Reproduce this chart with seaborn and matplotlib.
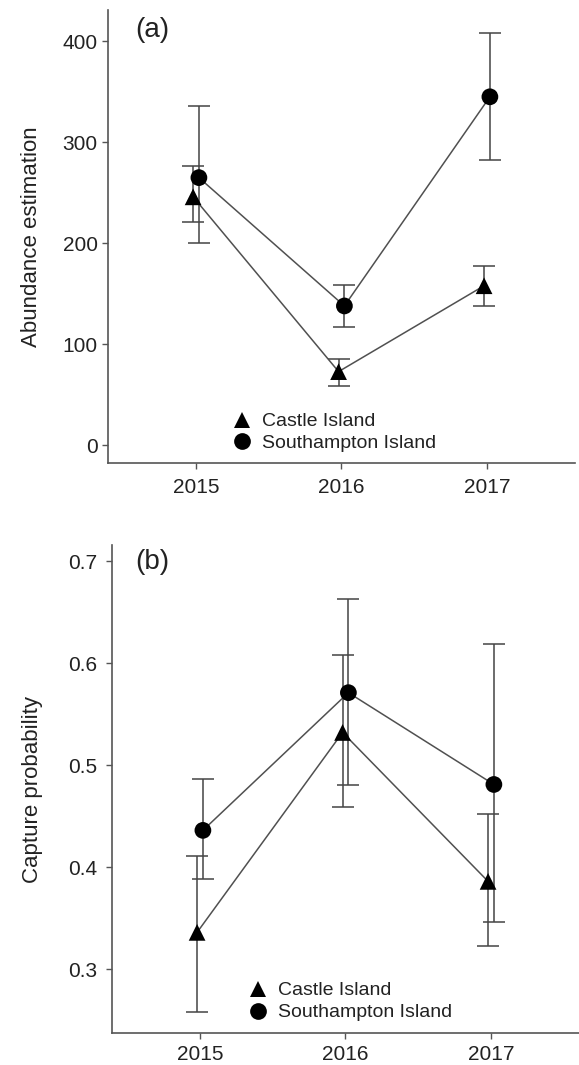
import pandas as pd
import matplotlib
matplotlib.use("Agg")
import matplotlib.pyplot as plt
import seaborn as sns

# Datos
years = [2015, 2016, 2017]
islands = ["Castle Island", "Southampton Island"]

abund_castle = [246, 73, 158]
abund_castle_lo = [221, 59, 138]
abund_castle_hi = [277, 85, 178]
abund_south = [265, 138, 345]
abund_south_lo = [200, 117, 282]
abund_south_hi = [336, 159, 408]

cap_castle = [0.336, 0.532, 0.386]
cap_castle_lo = [0.258, 0.459, 0.323]
cap_castle_hi = [0.411, 0.608, 0.452]
cap_south = [0.436, 0.571, 0.481]
cap_south_lo = [0.388, 0.480, 0.346]
cap_south_hi = [0.486, 0.663, 0.619]

sns.set_theme(style="ticks")
plt.rcParams["font.family"] = ["Liberation Sans", "DejaVu Sans"]

DODGE = {"Castle Island": -0.02, "Southampton Island": 0.02}
MARKERS = {"Castle Island": "^", "Southampton Island": "o"}
AX_COL = "#555555"
TXT_COL = "#222222"


def make_df(castle, c_lo, c_hi, south, s_lo, s_hi):
    rows = []
    for isl, est, lo, hi in [(islands[0], castle, c_lo, c_hi),
                             (islands[1], south, s_lo, s_hi)]:
        for y, e, l, h in zip(years, est, lo, hi):
            rows.append({"year": y + DODGE[isl], "island": isl,
                         "est": e, "lo": l, "hi": h})
    return pd.DataFrame(rows)


def draw_panel(ax, df, tag, ylabel, ylim, yticks, yfmt, leg_anchor,
               tag_pos, ypad, ylabelpad, xpad):
    for isl in islands:
        d = df[df["island"] == isl]
        ax.errorbar(d["year"], d["est"],
                    yerr=[d["est"] - d["lo"], d["hi"] - d["est"]],
                    fmt="none", ecolor="#444444", elinewidth=1.1,
                    capsize=8, capthick=1.1, zorder=1)
        sns.lineplot(data=d, x="year", y="est", ax=ax, color="#505050",
                     linewidth=1.1, legend=False, zorder=2)
    sns.scatterplot(data=df, x="year", y="est", style="island",
                    markers=MARKERS, color="black", s=145,
                    edgecolor="black", linewidth=0, ax=ax, zorder=3)
    handles, labels = ax.get_legend_handles_labels()
    keep = [(h, l) for h, l in zip(handles, labels) if l in islands]
    ax.legend([h for h, _ in keep], [l for _, l in keep],
              loc="center left", bbox_to_anchor=leg_anchor, frameon=False,
              handlelength=1.0, handletextpad=0.55,
              labelspacing=0.22, borderpad=0, borderaxespad=0,
              prop={"size": 14}, labelcolor=TXT_COL)

    ax.set_xlim(2014.395, 2017.605)
    ax.set_ylim(*ylim)
    ax.set_xticks(years)
    ax.set_xticklabels([str(y) for y in years])
    ax.set_yticks(yticks)
    ax.set_yticklabels([yfmt.format(v) for v in yticks])
    ax.set_xlabel("")
    ax.set_ylabel(ylabel, fontsize=16, color=TXT_COL, labelpad=ylabelpad)
    ax.tick_params(axis="both", labelsize=15, length=4, width=1.0,
                   color=AX_COL, labelcolor=TXT_COL)
    ax.tick_params(axis="x", pad=xpad)
    ax.tick_params(axis="y", pad=ypad)
    for side in ["top", "right"]:
        ax.spines[side].set_visible(False)
    for side in ["left", "bottom"]:
        ax.spines[side].set_color(AX_COL)
        ax.spines[side].set_linewidth(1.2)
    ax.text(tag_pos[0], tag_pos[1], tag, transform=ax.transAxes,
            fontsize=20, color=TXT_COL, va="top", ha="left")


fig = plt.figure(figsize=(5.79, 10.65), dpi=100)
fig.patch.set_facecolor("white")
ax_a = fig.add_axes([0.1865, 0.5653, 0.8066, 0.4254])
ax_b = fig.add_axes([0.1934, 0.0300, 0.8066, 0.4582])

df_a = make_df(abund_castle, abund_castle_lo, abund_castle_hi,
               abund_south, abund_south_lo, abund_south_hi)
df_b = make_df(cap_castle, cap_castle_lo, cap_castle_hi,
               cap_south, cap_south_lo, cap_south_hi)

draw_panel(ax_a, df_a, "(a)", "Abundance estimation", (-17.4, 431),
           [0, 100, 200, 300, 400], "{:.0f}", (0.2655, 0.0673),
           (0.058, 0.985), 3.5, 15, 7)
draw_panel(ax_b, df_b, "(b)", "Capture probability", (0.2373, 0.7157),
           [0.3, 0.4, 0.5, 0.6, 0.7], "{:.1f}", (0.292, 0.0645),
           (0.049, 0.992), 6.5, 18, 4.5)

fig.savefig("out.png", dpi=100, facecolor="white")
